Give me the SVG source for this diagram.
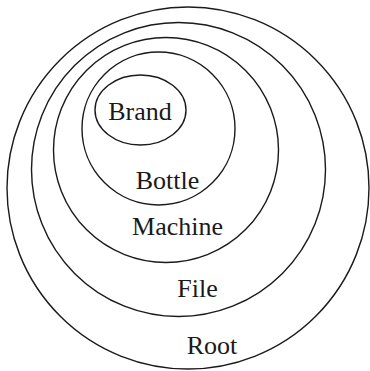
<svg xmlns="http://www.w3.org/2000/svg" width="370" height="371" viewBox="0 0 370 371">
<style>
.c{fill:none;stroke:#1a1a1a;stroke-width:1.4}
.t{font-size:26px;fill:#1a1a1a;text-anchor:middle}
</style>
<rect width="370" height="371" fill="#fff"/>
<g id="root"><circle class="c" cx="188" cy="188" r="181"/><text class="t" font-family="Liberation Serif, Times New Roman, serif" x="212" y="354">Root</text></g>
<g id="file"><circle class="c" cx="178.5" cy="169.5" r="147"/><text class="t" font-family="Liberation Serif, Times New Roman, serif" x="197.5" y="297">File</text></g>
<g id="machine"><circle class="c" cx="166" cy="150" r="112.5"/><text class="t" font-family="Liberation Serif, Times New Roman, serif" x="177.5" y="235">Machine</text></g>
<g id="bottle"><circle class="c" cx="158.5" cy="128.5" r="76.5"/><text class="t" font-family="Liberation Serif, Times New Roman, serif" x="167.5" y="189">Bottle</text></g>
<g id="brand"><ellipse class="c" cx="140.5" cy="110" rx="45.5" ry="35"/><text class="t" font-family="Liberation Serif, Times New Roman, serif" x="140" y="120">Brand</text></g>
<g id="connectors"></g>
</svg>
